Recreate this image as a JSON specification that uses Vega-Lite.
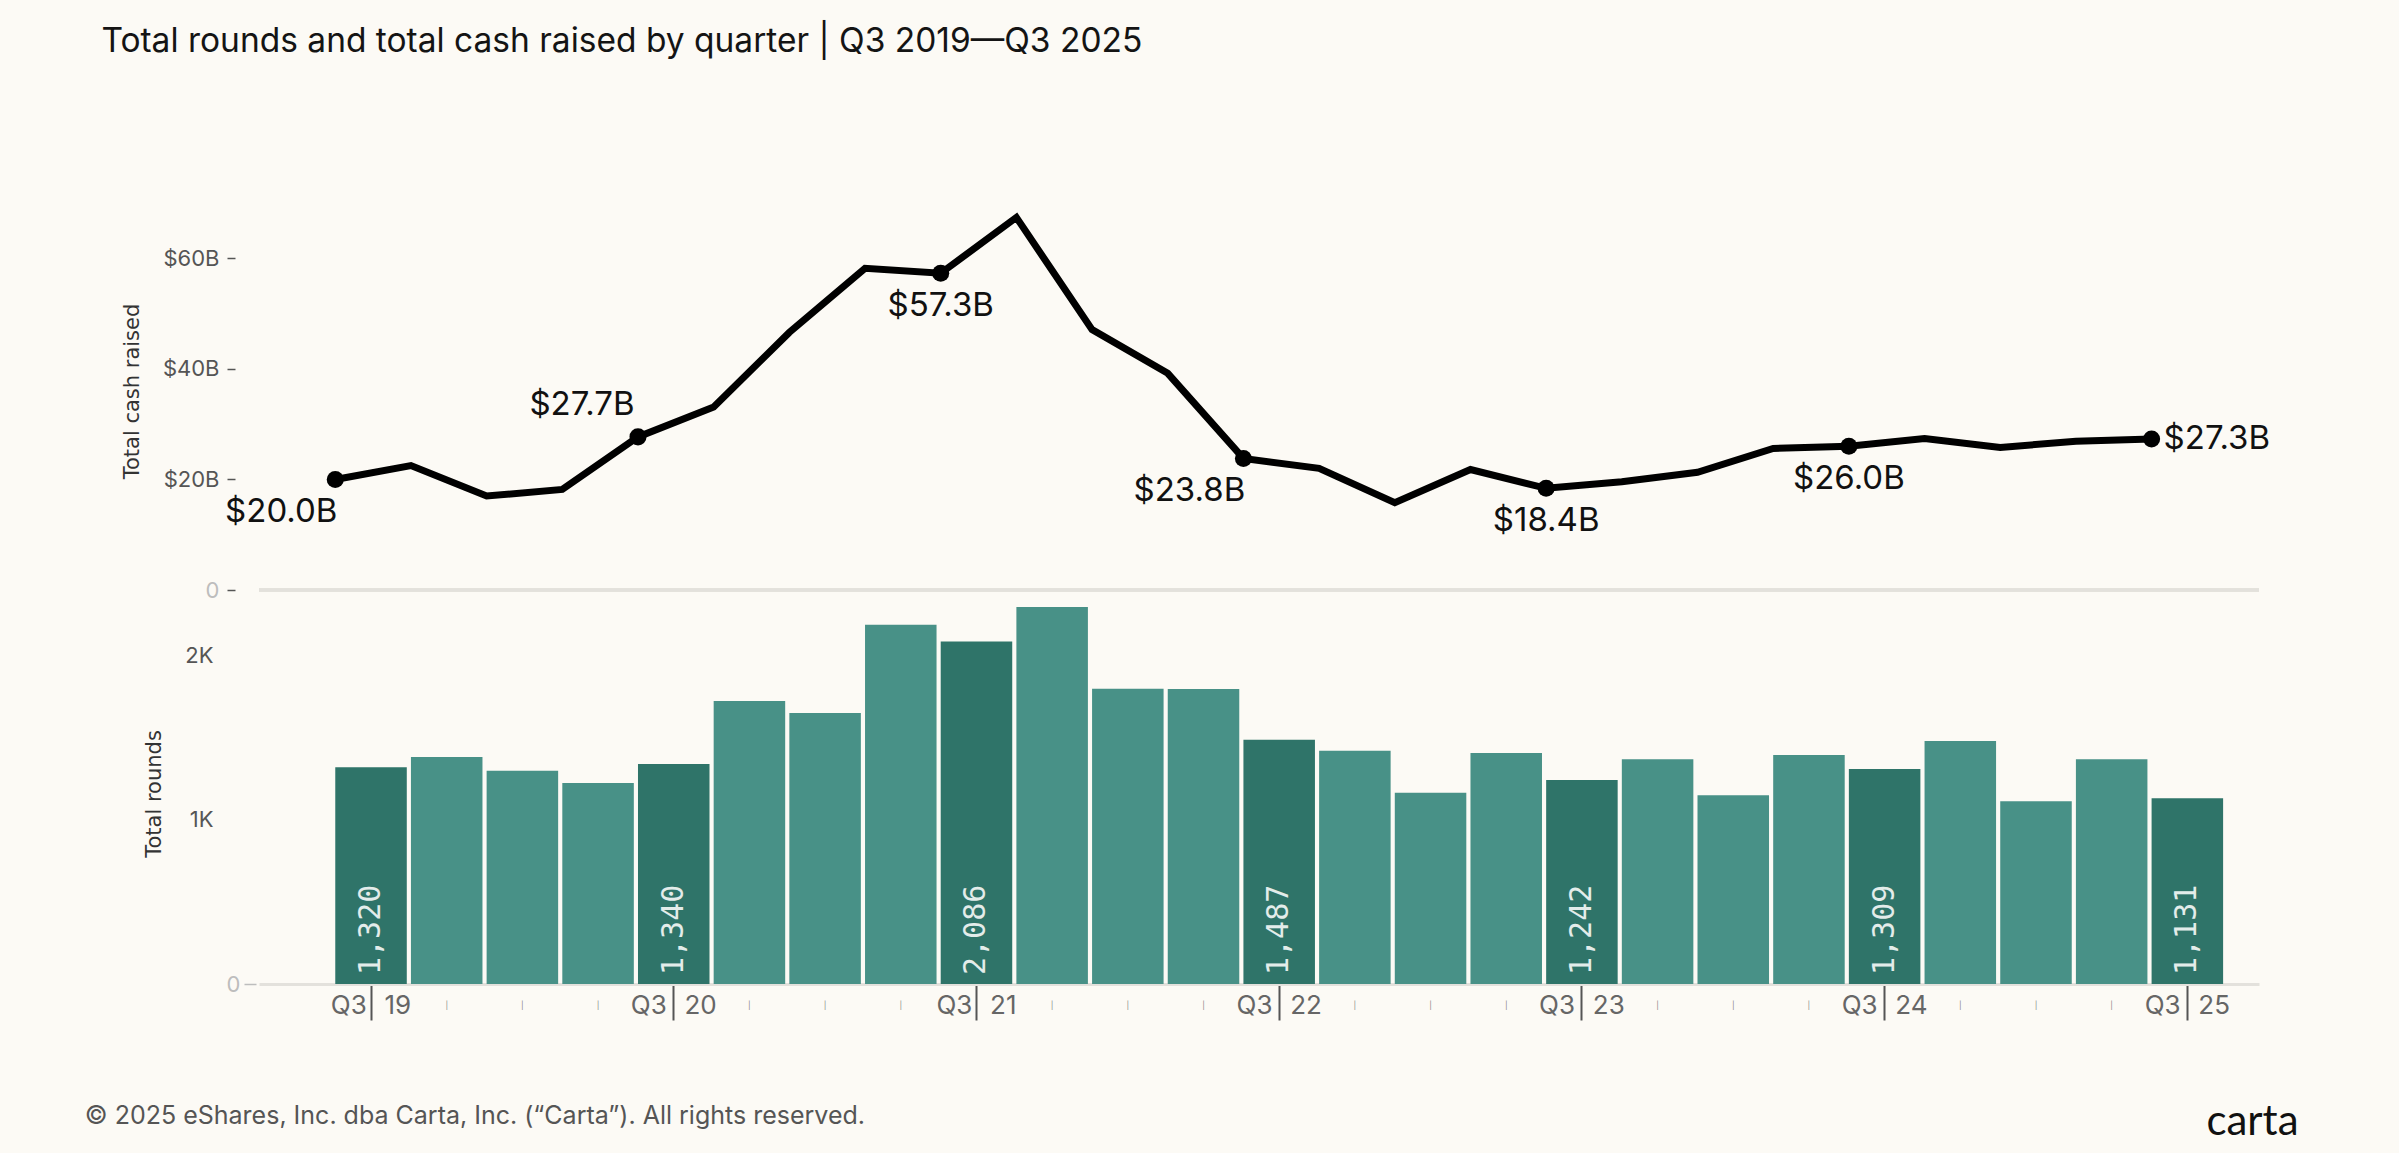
{
  "$schema": "https://vega.github.io/schema/vega-lite/v6.json",
  "background": "#fcfaf5",
  "padding": {"left": 84, "top": 24, "right": 141, "bottom": 15},
  "config": {
    "font": "Inter",
    "view": {"stroke": "transparent"},
    "axis": {"grid": false, "domain": false}
  },
  "data": {
    "values": [
      {"quarter": "Q3 2019", "rounds": 1320, "cash": 20.0},
      {"quarter": "Q4 2019", "rounds": 1383, "cash": 22.5},
      {"quarter": "Q1 2020", "rounds": 1298, "cash": 17.0},
      {"quarter": "Q2 2020", "rounds": 1224, "cash": 18.2},
      {"quarter": "Q3 2020", "rounds": 1340, "cash": 27.7},
      {"quarter": "Q4 2020", "rounds": 1724, "cash": 33.1},
      {"quarter": "Q1 2021", "rounds": 1650, "cash": 46.6},
      {"quarter": "Q2 2021", "rounds": 2187, "cash": 58.2},
      {"quarter": "Q3 2021", "rounds": 2086, "cash": 57.3},
      {"quarter": "Q4 2021", "rounds": 2295, "cash": 67.4},
      {"quarter": "Q1 2022", "rounds": 1798, "cash": 47.1},
      {"quarter": "Q2 2022", "rounds": 1797, "cash": 39.2},
      {"quarter": "Q3 2022", "rounds": 1487, "cash": 23.8},
      {"quarter": "Q4 2022", "rounds": 1420, "cash": 22.0},
      {"quarter": "Q1 2023", "rounds": 1164, "cash": 15.8},
      {"quarter": "Q2 2023", "rounds": 1406, "cash": 21.8},
      {"quarter": "Q3 2023", "rounds": 1242, "cash": 18.4},
      {"quarter": "Q4 2023", "rounds": 1369, "cash": 19.6},
      {"quarter": "Q1 2024", "rounds": 1150, "cash": 21.3},
      {"quarter": "Q2 2024", "rounds": 1395, "cash": 25.6},
      {"quarter": "Q3 2024", "rounds": 1309, "cash": 26.0},
      {"quarter": "Q4 2024", "rounds": 1480, "cash": 27.4},
      {"quarter": "Q1 2025", "rounds": 1113, "cash": 25.8},
      {"quarter": "Q2 2025", "rounds": 1369, "cash": 26.9},
      {"quarter": "Q3 2025", "rounds": 1131, "cash": 27.3}
    ]
  },
  "title": {
    "text": "carta",
    "orient": "bottom",
    "anchor": "end",
    "font": "Lato",
    "fontSize": 42,
    "fontWeight": "normal",
    "color": "#111111",
    "offset": 0,
    "dx": 28,
    "dy": -28
  },
  "spacing": 0,
  "vconcat": [
    {
      "width": 2000,
      "height": 398,
      "title": {
        "text": "Total rounds and total cash raised by quarter | Q3 2019\u2014Q3 2025",
        "anchor": "start",
        "fontSize": 33.5,
        "fontWeight": "normal",
        "color": "#141414",
        "offset": 133,
        "dx": -20
      },
      "transform": [
        {"calculate": "'$' + format(datum.cash, '.1f') + 'B'", "as": "label"}
      ],
      "encoding": {
        "x": {
          "field": "quarter",
          "type": "ordinal",
          "sort": null,
          "bandPosition": 0,
          "scale": {"type": "band", "paddingInner": 0.055, "paddingOuter": 0.741, "align": 0.68},
          "axis": null
        },
        "y": {
          "field": "cash",
          "type": "quantitative",
          "scale": {"domain": [0, 72], "nice": false},
          "axis": {
            "title": "Total cash raised",
            "titleFont": "DejaVu Sans",
            "titleFontSize": 21,
            "titleFontWeight": "normal",
            "titleColor": "#333333",
            "titlePadding": 20,
            "values": [0, 20, 40, 60],
            "labelExpr": "datum.value == 0 ? '0' : '$' + datum.value + 'B'",
            "labelFontSize": 22,
            "labelColor": {"condition": {"test": "datum.value == 0", "value": "#bdbdbd"}, "value": "#555555"},
            "labelPadding": 8,
            "tickSize": 8,
            "tickWidth": 1.5,
            "tickColor": "#555555",
            "offset": 24
          }
        }
      },
      "layer": [
        {
          "mark": {"type": "rule", "color": "#e3e1dc", "strokeWidth": 3},
          "encoding": {"x": null, "y": {"datum": 0}}
        },
        {
          "mark": {"type": "line", "color": "#000000", "strokeWidth": 7, "strokeJoin": "miter"}
        },
        {
          "transform": [{"filter": "indexof(datum.quarter, 'Q3') == 0"}],
          "mark": {"type": "point", "filled": true, "color": "#000000", "size": 290, "opacity": 1}
        },
        {
          "transform": [{"filter": "datum.quarter == 'Q3 2019' || datum.quarter == 'Q3 2022'"}],
          "mark": {"type": "text", "fontSize": 33, "color": "#111111", "dx": -54, "dy": 33},
          "encoding": {"text": {"field": "label"}}
        },
        {
          "transform": [{"filter": "datum.quarter == 'Q3 2020'"}],
          "mark": {"type": "text", "fontSize": 33, "color": "#111111", "dx": -56, "dy": -32},
          "encoding": {"text": {"field": "label"}}
        },
        {
          "transform": [{"filter": "datum.quarter == 'Q3 2021' || datum.quarter == 'Q3 2023' || datum.quarter == 'Q3 2024'"}],
          "mark": {"type": "text", "fontSize": 33, "color": "#111111", "dy": 33},
          "encoding": {"text": {"field": "label"}}
        },
        {
          "transform": [{"filter": "datum.quarter == 'Q3 2025'"}],
          "mark": {"type": "text", "fontSize": 33, "color": "#111111", "align": "left", "dx": 12},
          "encoding": {"text": {"field": "label"}}
        }
      ]
    },
    {
      "width": 2000,
      "height": 381,
      "title": {
        "text": "\u00a9 2025 eShares, Inc. dba Carta, Inc. (\u201cCarta\u201d). All rights reserved.",
        "orient": "bottom",
        "anchor": "start",
        "fontSize": 25,
        "fontWeight": "normal",
        "color": "#555555",
        "offset": 83,
        "dx": -59
      },
      "encoding": {
        "x": {
          "field": "quarter",
          "type": "ordinal",
          "sort": null,
          "title": null,
          "scale": {"type": "band", "paddingInner": 0.055, "paddingOuter": 0.741, "align": 0.68},
          "axis": {
            "domain": true,
            "domainColor": "#e3e1dc",
            "domainWidth": 3,
            "labelAngle": 0,
            "labelOverlap": false,
            "labelBound": false,
            "labelBaseline": "middle",
            "labelPadding": -15,
            "labelExpr": "indexof(datum.value, 'Q3') == 0 ? 'Q3\u2002\u2009' + slice(datum.value, -2) : '|'",
            "labelFontSize": {"condition": {"test": "indexof(datum.value, 'Q3') == 0", "value": 26}, "value": 8},
            "labelColor": {"condition": {"test": "indexof(datum.value, 'Q3') == 0", "value": "#666666"}, "value": "#888888"},
            "tickSize": 36,
            "tickWidth": 2,
            "tickColor": "#555555",
            "tickOpacity": {"condition": {"test": "indexof(datum.value, 'Q3') == 0", "value": 1}, "value": 0}
          }
        },
        "y": {
          "field": "rounds",
          "type": "quantitative",
          "scale": {"domain": [0, 2320], "nice": false},
          "axis": {
            "title": "Total rounds",
            "titleFont": "DejaVu Sans",
            "titleFontSize": 21,
            "titleFontWeight": "normal",
            "titleColor": "#333333",
            "titlePadding": 20,
            "values": [0, 1000, 2000],
            "labelExpr": "datum.value == 0 ? '0' : (datum.value / 1000) + 'K'",
            "labelFontSize": 22,
            "labelColor": {"condition": {"test": "datum.value == 0", "value": "#bdbdbd"}, "value": "#555555"},
            "labelPadding": {"condition": {"test": "datum.value == 0", "value": 4}, "value": 31},
            "tickSize": 12,
            "tickWidth": 1.5,
            "tickColor": "#bdbdbd",
            "tickOpacity": {"condition": {"test": "datum.value == 0", "value": 1}, "value": 0},
            "offset": 3
          }
        }
      },
      "layer": [
        {
          "mark": {"type": "bar"},
          "encoding": {
            "color": {
              "condition": {"test": "indexof(datum.quarter, 'Q3') == 0", "value": "#2f7469"},
              "value": "#489187"
            }
          }
        },
        {
          "transform": [{"filter": "indexof(datum.quarter, 'Q3') == 0"}],
          "mark": {
            "type": "text",
            "font": "DejaVu Sans Mono",
            "fontSize": 30,
            "color": "#e3ecea",
            "angle": 270,
            "align": "left",
            "baseline": "middle",
            "dx": 9
          },
          "encoding": {
            "y": {"datum": 0},
            "text": {"field": "rounds", "type": "quantitative", "format": ","}
          }
        }
      ]
    }
  ]
}
